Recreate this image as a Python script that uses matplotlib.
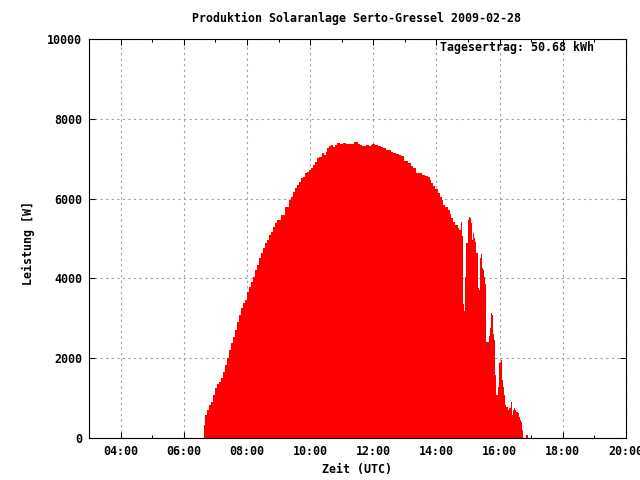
import matplotlib
matplotlib.use("Agg")
import matplotlib.pyplot as plt
from matplotlib.ticker import MultipleLocator, FuncFormatter, NullLocator

title = "Produktion Solaranlage Serto-Gressel 2009-02-28"
xlabel = "Zeit (UTC)"
ylabel = "Leistung [W]"
daily_text = "Tagesertrag: 50.68 kWh"

times = [
    "06:39", "06:41", "06:44", "06:48", "06:52", "06:56", "07:00", "07:03", "07:07", "07:11",
    "07:15", "07:19", "07:22", "07:26", "07:30", "07:34", "07:38", "07:41", "07:45", "07:49",
    "07:53", "07:57", "08:00", "08:04", "08:08", "08:12", "08:16", "08:19", "08:23", "08:27",
    "08:31", "08:35", "08:39", "08:42", "08:46", "08:50", "08:54", "08:58", "09:05", "09:13",
    "09:20", "09:24", "09:28", "09:32", "09:36", "09:39", "09:43", "09:47", "09:51", "09:55",
    "09:58", "10:02", "10:06", "10:10", "10:14", "10:17", "10:21", "10:23", "10:27", "10:31",
    "10:33", "10:35", "10:40", "10:44", "10:48", "10:52", "10:56", "10:59", "11:03", "11:09",
    "11:15", "11:24", "11:30", "11:34", "11:39", "11:47", "11:51", "11:56", "11:58", "12:04",
    "12:08", "12:15", "12:19", "12:25", "12:29", "12:34", "12:38", "12:44", "12:48", "12:53",
    "12:59", "13:05", "13:12", "13:16", "13:22", "13:28", "13:33", "13:39", "13:43", "13:47",
    "13:50", "13:54", "13:58", "14:02", "14:06", "14:10", "14:13", "14:17", "14:21", "14:25",
    "14:28", "14:32", "14:36", "14:40", "14:42", "14:46", "14:47", "14:49", "14:51", "14:53",
    "14:55", "14:57", "14:59", "15:01", "15:03", "15:05", "15:07", "15:08", "15:10", "15:12",
    "15:14", "15:16", "15:18", "15:20", "15:22", "15:24", "15:26", "15:27", "15:29", "15:31",
    "15:33", "15:35", "15:37", "15:39", "15:41", "15:43", "15:45", "15:46", "15:48", "15:50",
    "15:52", "15:54", "15:56", "15:58", "16:00", "16:02", "16:04", "16:05", "16:07", "16:09",
    "16:11", "16:13", "16:15", "16:17", "16:19", "16:21", "16:23", "16:24", "16:26", "16:28",
    "16:30", "16:32", "16:34", "16:36", "16:38", "16:40", "16:42", "16:43", "16:45", "16:51",
    "16:53",
]
power = [
    325, 575, 700, 825, 900, 1075, 1250, 1350, 1400, 1500,
    1650, 1830, 2000, 2200, 2380, 2530, 2700, 2900, 3080, 3260,
    3380, 3460, 3660, 3780, 3910, 4030, 4210, 4340, 4510, 4640,
    4760, 4890, 4960, 5090, 5160, 5290, 5390, 5460, 5600, 5790,
    5960, 6040, 6160, 6260, 6340, 6420, 6510, 6540, 6640, 6670,
    6720, 6770, 6840, 6920, 7020, 7040, 7040, 7140, 7090, 7170,
    7270, 7320, 7340, 7290, 7340, 7390, 7370, 7370, 7390, 7370,
    7370, 7420, 7370, 7340, 7320, 7340, 7320, 7340, 7370, 7340,
    7320, 7290, 7270, 7220, 7220, 7170, 7140, 7120, 7090, 7070,
    6940, 6890, 6820, 6770, 6640, 6640, 6590, 6570, 6540, 6470,
    6390, 6320, 6240, 6140, 6040, 5960, 5840, 5790, 5710, 5610,
    5510, 5410, 5340, 5260, 5210, 5290, 5410, 5060, 3360, 3180,
    4030, 4890, 5460, 5540, 5510, 5390, 4890, 4960, 5140, 5010,
    4910, 4640, 3760, 3710, 4510, 4610, 4590, 4260, 4210, 4030,
    3860, 2410, 2410, 2560, 2760, 3130, 3230, 3080, 2600, 2460,
    1580, 1080, 1280, 1880, 1900, 1950, 1880, 1450, 1280, 1080,
    830, 780, 700, 750, 750, 900, 830, 580, 700, 750,
    700, 650, 630, 530, 450, 400, 330, 200, 0, 75,
    0,
]

x_hours = [int(t[:2]) + int(t[3:]) / 60.0 for t in times]

font = dict(family="DejaVu Sans Mono", weight="bold", size=8.4)

fig = plt.figure(figsize=(6.4, 4.8), dpi=100)
ax = fig.add_axes([89 / 640, 1 - 438 / 480, (626 - 89) / 640, (438 - 39) / 480])
ax.fill_between(x_hours, power, step="post", color="#ff0000", linewidth=0,
                antialiased=False, zorder=3)
ax.set_xlim(3, 20)
ax.set_ylim(0, 10000)

ax.xaxis.set_major_locator(MultipleLocator(2))
ax.xaxis.set_minor_locator(MultipleLocator(1))
ax.xaxis.set_major_formatter(FuncFormatter(lambda v, p: "%02d:00" % int(round(v))))
ax.yaxis.set_major_locator(MultipleLocator(2000))
ax.yaxis.set_minor_locator(NullLocator())

ax.grid(True, which="major", color="#a0a0a0", linestyle=(0, (2, 3)), linewidth=0.8, zorder=1)
ax.set_axisbelow(True)
ax.tick_params(which="major", direction="in", top=True, right=True, length=4.5, width=0.75,
               pad=5)
ax.tick_params(which="minor", direction="in", top=True, right=True, length=2.2, width=0.75)
for s in ax.spines.values():
    s.set_linewidth(0.8)
    s.set_zorder(5)
for lab in ax.get_xticklabels() + ax.get_yticklabels():
    lab.set_fontfamily(font["family"])
    lab.set_fontweight(font["weight"])
    lab.set_fontsize(font["size"])

fig.text(357 / 640, 1 - 18 / 480, title, ha="center", va="center", **font)
fig.text(357 / 640, 1 - 470 / 480, xlabel, ha="center", va="center", **font)
fig.text(28 / 640, 1 - 243 / 480, ylabel, ha="center", va="center", rotation=90, **font)
ax.text((594 - 89) / 537, (438 - 48) / 399, daily_text, transform=ax.transAxes,
        ha="right", va="center", zorder=6, **font)

fig.savefig("out.png", dpi=100)
